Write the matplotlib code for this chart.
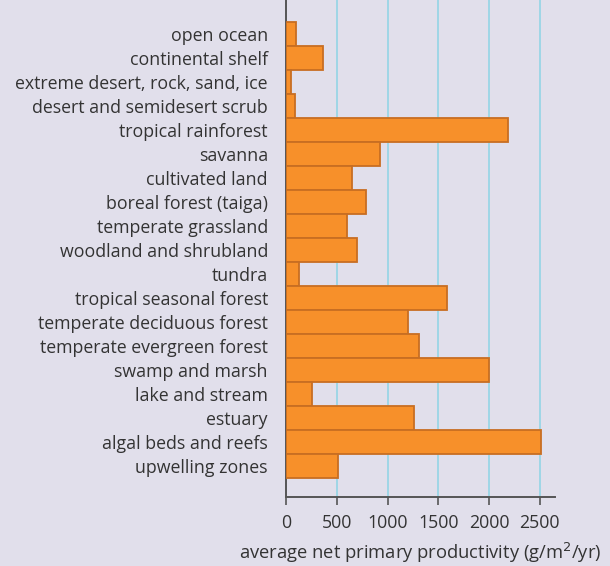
import matplotlib
matplotlib.use("Agg")
import matplotlib.pyplot as plt

# ecosystems, top to bottom as in the chart
ecosystems = ["open ocean", "continental shelf", "extreme desert, rock, sand, ice",
              "desert and semidesert scrub", "tropical rainforest", "savanna",
              "cultivated land", "boreal forest (taiga)", "temperate grassland",
              "woodland and shrubland", "tundra", "tropical seasonal forest",
              "temperate deciduous forest", "temperate evergreen forest",
              "swamp and marsh", "lake and stream", "estuary",
              "algal beds and reefs", "upwelling zones"]
npp = [95, 360, 45, 90, 2190, 925, 650, 790, 600, 700, 130, 1590, 1200, 1310,
       2000, 255, 1260, 2510, 510]
xticks = [0, 500, 1000, 1500, 2000, 2500]

bg = "#E1DFEB"
plt.rcParams['font.family'] = ['Open Sans', 'DejaVu Sans']

fig = plt.figure(figsize=(6.1, 5.66), dpi=100, facecolor=bg)
ax = fig.add_axes([286/610, 1 - 497/566, (555-286)/610, 497/566])
ax.set_facecolor(bg)

pos = list(range(len(ecosystems)))
ax.barh(pos, npp, height=1.0, color="#F7902A", edgecolor="#C86E22",
        linewidth=1.3, zorder=3)
ax.set_ylim(len(ecosystems) - 1 + 1.3, -1.4)
ax.set_xlim(0, 2650)

for x in xticks[1:]:
    ax.axvline(x, color="#9FD6E6", linewidth=1.4, zorder=1)

ax.set_yticks(pos)
ax.set_yticklabels(ecosystems, fontsize=12.8, color="#333333")
ax.tick_params(axis="y", length=0, pad=13)
ax.set_xticks(xticks)
ax.set_xticklabels([str(v) for v in xticks], fontsize=12.8, color="#333333")
ax.tick_params(axis="x", length=6, width=1.2, color="#555555", pad=6)

for s in ["top", "right"]:
    ax.spines[s].set_visible(False)
ax.spines["left"].set_color("#555555")
ax.spines["left"].set_linewidth(1.4)
ax.spines["bottom"].set_color("#555555")
ax.spines["bottom"].set_linewidth(1.4)

ax.set_xlabel("average net primary productivity (g/m$^2$/yr)", fontsize=13.2,
              color="#333333", labelpad=7)

fig.savefig("out.png", dpi=100, facecolor=bg)
